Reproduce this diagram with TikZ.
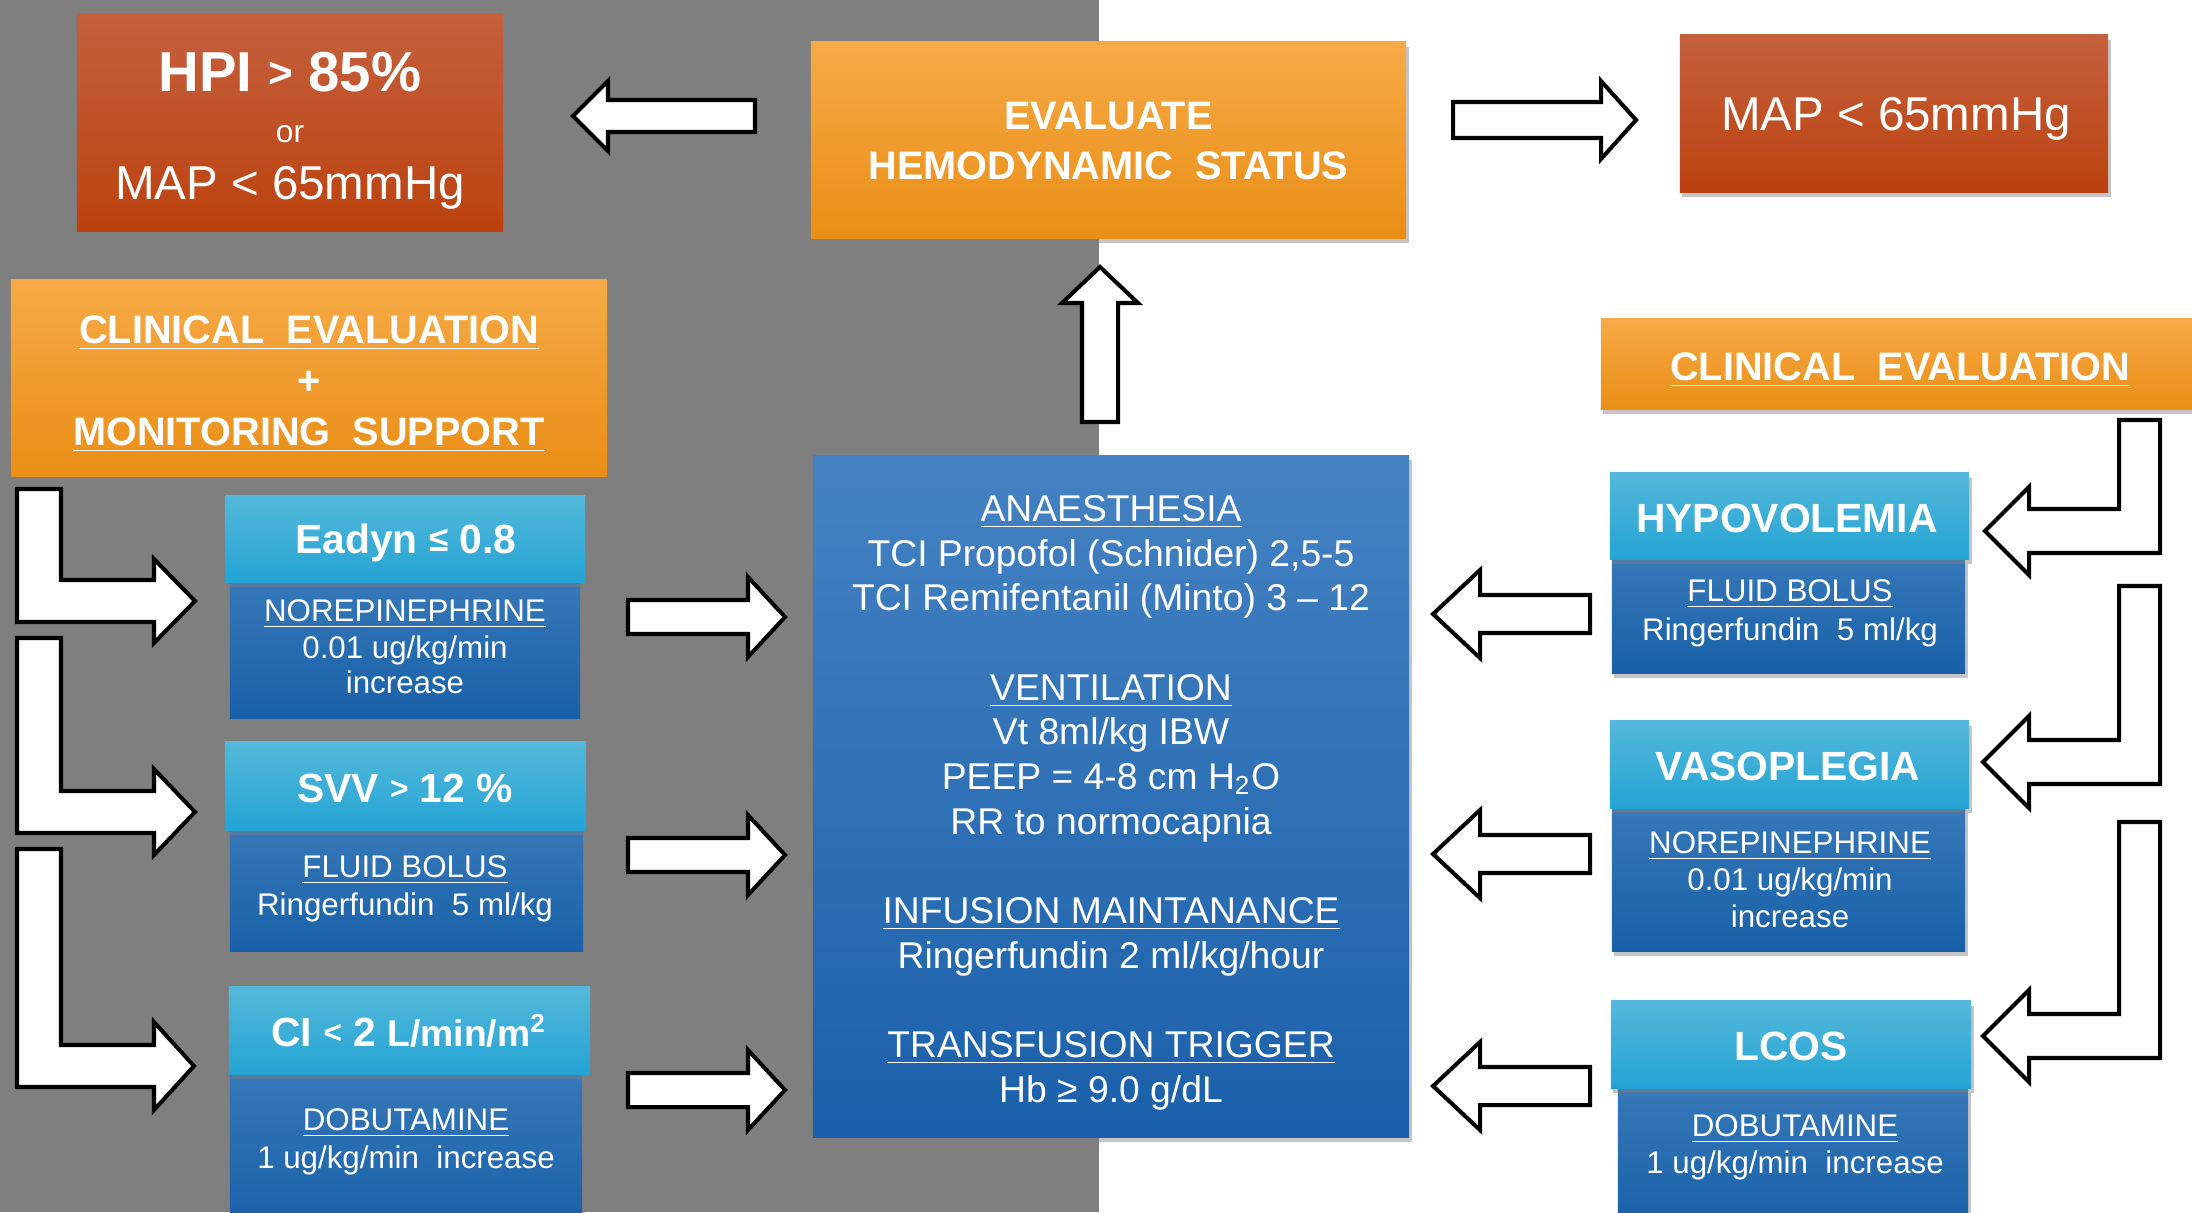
\documentclass[tikz,border=0pt]{standalone}
\usepackage{fontspec}
\setmainfont{Liberation Sans}
\usetikzlibrary{shadows}
\definecolor{bggray}{RGB}{127,127,127}
\definecolor{redtop}{RGB}{196,96,62}
\definecolor{redbot}{RGB}{188,66,14}
\definecolor{ortop}{RGB}{246,170,70}
\definecolor{orbot}{RGB}{234,142,22}
\definecolor{hdtop}{RGB}{84,184,218}
\definecolor{hdbot}{RGB}{36,164,212}
\definecolor{bdtop}{RGB}{54,120,184}
\definecolor{bdbot}{RGB}{24,96,168}
\definecolor{cttop}{RGB}{68,130,194}
\definecolor{ctbot}{RGB}{26,96,170}
\newcommand\myfHpi{\fontsize{16}{19}\selectfont\bfseries}
\newcommand\myfOr{\fontsize{9}{11}\selectfont}
\newcommand\myfMap{\fontsize{13.5}{16}\selectfont}
\newcommand\myfHead{\fontsize{11.3}{13.5}\selectfont\bfseries}
\newcommand\myfHdr{\fontsize{11.6}{14}\selectfont\bfseries}
\newcommand\myfBody{\fontsize{8.9}{10.6}\selectfont}
\newcommand\myfCtr{\fontsize{10.6}{12.7}\selectfont}
\newcommand\mysmallsym[3]{\raisebox{#2}{\fontsize{#1}{#1}\selectfont #3}}
% horizontal block arrow: tail x, tip x, y, shaft half, head half, signed head length
\newcommand{\myharrow}[6]{\draw[blockarrow] (#1,{#3-#4}) -- ({#2-(#6)},{#3-#4}) -- ({#2-(#6)},{#3-#5}) -- (#2,#3) -- ({#2-(#6)},{#3+#5}) -- ({#2-(#6)},{#3+#4}) -- (#1,{#3+#4}) -- cycle;}
% vertical block arrow: tail y, tip y, x, shaft half, head half, signed head length
\newcommand{\myvarrow}[6]{\draw[blockarrow] ({#3-#4},#1) -- ({#3-#4},{#2-(#6)}) -- ({#3-#5},{#2-(#6)}) -- (#3,#2) -- ({#3+#5},{#2-(#6)}) -- ({#3+#4},{#2-(#6)}) -- ({#3+#4},#1) -- cycle;}
% bent block arrow: outer x, inner x, top y, shaft centre y, shaft half, head half, head base x, tip x
\newcommand{\myLarrow}[8]{\draw[blockarrow] (#1,#3) -- (#2,#3) -- (#2,{#4-#5}) -- (#7,{#4-#5}) -- (#7,{#4-#6}) -- (#8,#4) -- (#7,{#4+#6}) -- (#7,{#4+#5}) -- (#1,{#4+#5}) -- cycle;}
\begin{document}
\begin{tikzpicture}[x=0.01cm,y=-0.01cm,
  panel/.style={rectangle, inner sep=0pt, draw=none,
    drop shadow={shadow xshift=0.7pt, shadow yshift=-1.3pt, opacity=0.45}},
  redpanel/.style={panel, top color=redtop, bottom color=redbot},
  orpanel/.style={panel, top color=ortop, bottom color=orbot},
  hdpanel/.style={panel, top color=hdtop, bottom color=hdbot, minimum height=0.87cm},
  bdpanel/.style={panel, top color=bdtop, bottom color=bdbot},
  ctpanel/.style={panel, top color=cttop, bottom color=ctbot},
  lbl/.style={text=white, inner sep=0pt, anchor=base},
  blockarrow/.style={draw=black, fill=white, line width=1.15pt, line join=miter}]
\useasboundingbox (0,0) rectangle (2192,1212);
\fill[white] (0,0) rectangle (2192,1212);
\fill[bggray] (0,0) rectangle (1099,1212);

% top row
\node[redpanel, minimum width=4.26cm, minimum height=2.17cm] (hpi) at (290,122.5) {};
\node[lbl, font=\myfHpi] (hpiA) at (290,91) {HPI \mysmallsym{12}{1pt}{>} 85\%};
\node[lbl, font=\myfOr] (hpiB) at (290,142) {or};
\node[lbl, font=\myfMap] (hpiC) at (290,199) {MAP < 65mmHg};

\node[orpanel, minimum width=5.95cm, minimum height=1.96cm] (eval) at (1108.5,140) {};
\node[lbl, font=\myfHead] (evalA) at (1108.5,129) {EVALUATE};
\node[lbl, font=\myfHead] (evalB) at (1108.5,179) {HEMODYNAMIC\ \ STATUS};

\node[redpanel, minimum width=4.28cm, minimum height=1.57cm] (mapr) at (1894,113.5) {};
\node[lbl, font=\myfMap] (maprT) at (1896,130) {MAP < 65mmHg};

% clinical evaluation boxes
\node[orpanel, minimum width=5.96cm, minimum height=1.96cm] (cel) at (309,378) {};
\node[lbl, font=\myfHead] (celA) at (309,343) {\underline{CLINICAL\ \ EVALUATION}};
\node[lbl, font=\myfHead] (celB) at (309,394) {+};
\node[lbl, font=\myfHead] (celC) at (309,445) {\underline{MONITORING\ \ SUPPORT}};

\node[orpanel, minimum width=6.09cm, minimum height=0.9cm] (cer) at (1905.5,364) {};
\node[lbl, font=\myfHead] (cerT) at (1900,380) {\underline{CLINICAL\ \ EVALUATION}};

% central box
\node[ctpanel, minimum width=5.96cm, minimum height=6.81cm] (ctr) at (1111,796.5) {};
\node[lbl, font=\myfCtr] (c1) at (1111,521) {\underline{ANAESTHESIA}};
\node[lbl, font=\myfCtr] (c2) at (1111,566) {TCI Propofol (Schnider) 2,5-5};
\node[lbl, font=\myfCtr] (c3) at (1111,610) {TCI Remifentanil (Minto) 3 – 12};
\node[lbl, font=\myfCtr] (c4) at (1111,700) {\underline{VENTILATION}};
\node[lbl, font=\myfCtr] (c5) at (1111,744) {Vt 8ml/kg IBW};
\node[lbl, font=\myfCtr] (c6) at (1111,789) {PEEP = 4-8 cm H\textsubscript{2}O};
\node[lbl, font=\myfCtr] (c7) at (1111,834) {RR to normocapnia};
\node[lbl, font=\myfCtr] (c8) at (1111,923) {\underline{INFUSION MAINTANANCE}};
\node[lbl, font=\myfCtr] (c9) at (1111,968) {Ringerfundin 2 ml/kg/hour};
\node[lbl, font=\myfCtr] (c10) at (1111,1057) {\underline{TRANSFUSION TRIGGER}};
\node[lbl, font=\myfCtr] (c11) at (1111,1102) {Hb ≥ 9.0 g/dL};

% left column
\node[bdpanel, minimum width=3.5cm, minimum height=1.36cm] (lb1) at (405,650) {};
\node[hdpanel, minimum width=3.6cm, minimum height=0.86cm] (lh1) at (405,539) {};
\node[lbl, font=\myfHdr] (lh1T) at (406,553) {Eadyn \mysmallsym{10}{0.5pt}{≤} 0.8};
\node[lbl, font=\myfBody] (lb1A) at (405,621) {\underline{NOREPINEPHRINE}};
\node[lbl, font=\myfBody] (lb1B) at (405,658) {0.01 ug/kg/min};
\node[lbl, font=\myfBody] (lb1C) at (405,693) {increase};

\node[bdpanel, minimum width=3.53cm, minimum height=1.21cm] (lb2) at (406.5,890.5) {};
\node[hdpanel, minimum width=3.61cm, minimum height=0.88cm] (lh2) at (405.5,786) {};
\node[lbl, font=\myfHdr] (lh2T) at (405,802) {SVV \mysmallsym{9}{0.6pt}{>} 12 \%};
\node[lbl, font=\myfBody] (lb2A) at (405,877) {\underline{FLUID BOLUS}};
\node[lbl, font=\myfBody] (lb2B) at (405,915) {Ringerfundin\ \ 5 ml/kg};

\node[bdpanel, minimum width=3.52cm, minimum height=1.56cm] (lb3) at (406,1152) {};
\node[hdpanel, minimum width=3.61cm, minimum height=0.87cm] (lh3) at (409.5,1030.5) {};
\node[lbl, font=\myfHdr] (lh3T) at (409,1046) {CI \mysmallsym{9}{0.6pt}{<} 2 {\fontsize{10.6}{13}\selectfont L/min/m\textsuperscript{2}}};
\node[lbl, font=\myfBody] (lb3A) at (406,1130) {\underline{DOBUTAMINE}};
\node[lbl, font=\myfBody] (lb3B) at (406,1168) {1 ug/kg/min\ \ increase};

% right column
\node[bdpanel, minimum width=3.53cm, minimum height=1.14cm] (rb1) at (1788.5,616) {};
\node[hdpanel, minimum width=3.59cm, minimum height=0.86cm] (rh1) at (1789.5,516) {};
\node[lbl, font=\myfHdr] (rh1T) at (1787,532) {HYPOVOLEMIA};
\node[lbl, font=\myfBody] (rb1A) at (1790,601) {\underline{FLUID BOLUS}};
\node[lbl, font=\myfBody] (rb1B) at (1790,640) {Ringerfundin\ \ 5 ml/kg};

\node[bdpanel, minimum width=3.53cm, minimum height=1.43cm] (rb2) at (1788.5,879.5) {};
\node[hdpanel, minimum width=3.59cm, minimum height=0.87cm] (rh2) at (1789.5,764.5) {};
\node[lbl, font=\myfHdr] (rh2T) at (1788,780) {VASOPLEGIA};
\node[lbl, font=\myfBody] (rb2A) at (1790,853) {\underline{NOREPINEPHRINE}};
\node[lbl, font=\myfBody] (rb2B) at (1790,890) {0.01 ug/kg/min};
\node[lbl, font=\myfBody] (rb2C) at (1790,927) {increase};

\node[bdpanel, minimum width=3.5cm, minimum height=1.42cm] (rb3) at (1793,1159) {};
\node[hdpanel, minimum width=3.6cm, minimum height=0.87cm] (rh3) at (1791,1044.5) {};
\node[lbl, font=\myfHdr] (rh3T) at (1791,1060) {LCOS};
\node[lbl, font=\myfBody] (rb3A) at (1795,1136) {\underline{DOBUTAMINE}};
\node[lbl, font=\myfBody] (rb3B) at (1795,1173) {1 ug/kg/min\ \ increase};

% block arrows
\myharrow{755}{573}{116}{16}{35}{-35}
\myharrow{1453}{1636}{120}{18}{39}{35}
\myvarrow{422}{267}{1100}{18}{38}{-36}

\myharrow{628}{785}{617}{17}{40}{37}
\myharrow{628}{785}{855}{17}{40}{37}
\myharrow{628}{785}{1090}{17}{40}{37}

\myharrow{1590}{1433}{614}{19}{44}{-47}
\myharrow{1590}{1433}{854}{19}{44}{-47}
\myharrow{1590}{1433}{1086}{19}{44}{-47}

\myLarrow{17}{61}{489}{601}{21}{42}{154}{195}
\myLarrow{17}{61}{638}{812}{21}{43}{154}{195}
\myLarrow{17}{61}{849}{1066}{21}{44}{154}{194}

\myLarrow{2160}{2119}{420}{531}{22}{44}{2029}{1985}
\myLarrow{2160}{2119}{586}{762}{22}{46}{2029}{1983}
\myLarrow{2160}{2119}{822}{1036}{22}{46}{2029}{1983}
\end{tikzpicture}
\end{document}
